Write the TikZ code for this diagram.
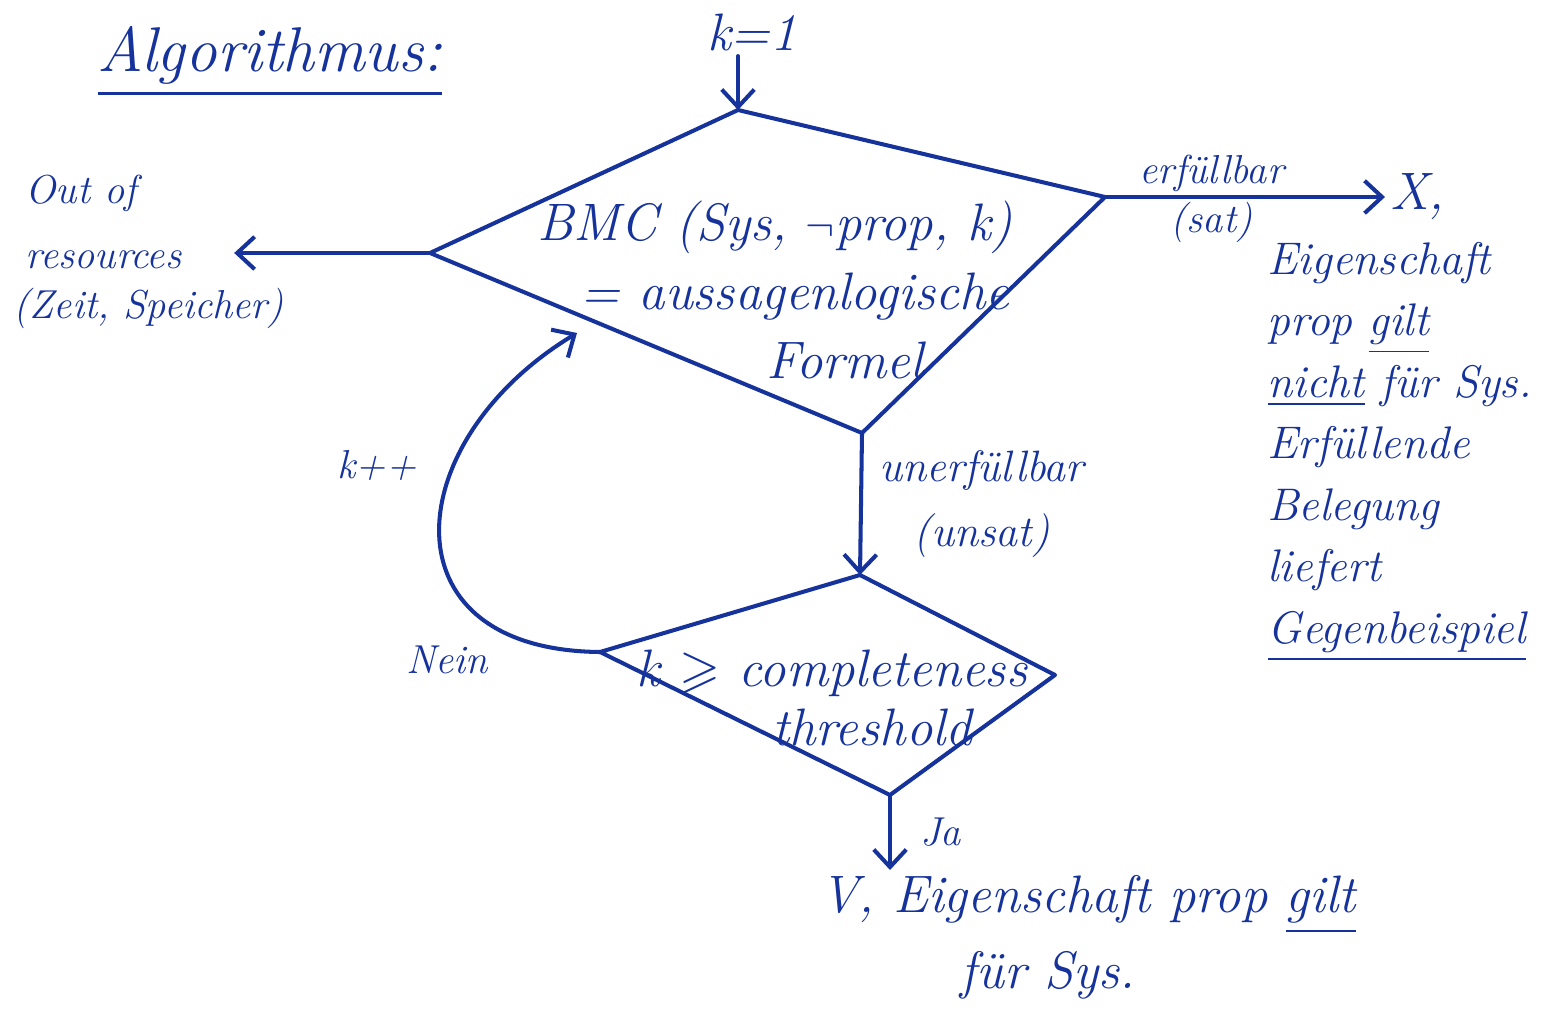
\documentclass[tikz,border=0pt]{standalone}
\usepackage{amsmath}
\usepackage{amssymb}
\usetikzlibrary{arrows.meta,positioning,calc}
\definecolor{ink}{RGB}{22,50,155}
\newcommand{\decisionbox}[5]{%
    \coordinate (#1-t) at #2;%
    \coordinate (#1-r) at #3;%
    \coordinate (#1-b) at #4;%
    \coordinate (#1-l) at #5;%
    \draw[box] (#1-t) -- (#1-r) -- (#1-b) -- (#1-l) -- cycle;%
}

\begin{document}
\begin{tikzpicture}[
        x=0.02cm,
        y=-0.02cm,
        line width=2.3pt,
        box/.style={draw=ink, line join=round},
        flow/.style={-{Straight Barb[length=3.5mm, width=6.5mm]}, draw=ink, line cap=round},
        hand/.style={text=ink, inner sep=2pt, align=left},
        big/.style={hand, font=\itshape\fontsize{30}{39}\selectfont},
        mid/.style={hand, font=\itshape\fontsize{26}{35}\selectfont},
        small/.style={hand, font=\itshape\fontsize{23}{37}\selectfont}
    ]
        \useasboundingbox (0,0) rectangle (1550,1023);

        % === TITEL ===
        \node[hand, font=\itshape\fontsize{36}{40}\selectfont] (title) at (270,62) {\underline{Algorithmus:}};
        \node[big] (start) at (752,32) {k=1};

        % === ENTSCHEIDUNGEN ===
        % \decisionbox{name}{oben}{rechts}{unten}{links}
        \decisionbox{bmc}{(738,110)}{(1105,197)}{(862,433)}{(430,253)}
        \node[big, align=center] (bmc) at (795,290)
            {BMC (Sys, $\neg$prop, k)\hspace*{0.8cm}\\= aussagenlogische\\\hspace*{2cm}Formel};
        \decisionbox{thr}{(860,575)}{(1055,675)}{(890,795)}{(600,652)}
        \node[big, align=center, font=\itshape\fontsize{30}{34}\selectfont] (thr) at (852,698)
            {k $\geqslant$ completeness\hspace*{0.8cm}\\\hspace*{0.8cm}threshold};
        \coordinate (bmc-in) at (577,333);

        % === ERGEBNISSE ===
        \node[big, anchor=west] (cex) at (1385,197) {X,};
        \node[mid, anchor=west] (cextxt) at (1262,452)
            {Eigenschaft\\prop \underline{gilt}\\\underline{nicht} für Sys.\\Erfüllende\\Belegung\\liefert\\\underline{Gegenbeispiel}};
        \node[small, anchor=west] (oor) at (20,222) {Out of\\resources};
        \node[small, anchor=west] (why) at (8,308) {(Zeit, Speicher)};
        \node[big, anchor=north west, font=\itshape\fontsize{30}{43}\selectfont] (holds) at (815,870)
            {V, Eigenschaft prop \underline{gilt}\\\hspace*{2.8cm}für Sys.};
        \node[small] (inc) at (377,466) {k++};
        \node[small] (no) at (447,660) {Nein};

        % === PFEILE ===
        \draw[flow] (start.south -| bmc-t) -- (bmc-t);
        \draw[flow] (bmc-r) -- node[small, above, pos=0.38] {erfüllbar}
            node[small, below, pos=0.38] {(sat)} (cex.west);
        \draw[flow, shorten >=0.95cm] (bmc-l) -- (bmc-l -| oor.east);
        \draw[flow] (bmc-b) -- node[right=6pt, align=center, text=ink, font=\itshape\fontsize{25}{37}\selectfont]
            {unerfüllbar\\(unsat)} (thr-t);
        \draw[flow] (thr-b) -- node[small, right=14pt] {Ja} (thr-b |- holds.north);
        \draw[flow] (thr-l) .. controls (380,650) and (400,440) .. (bmc-in);
    \end{tikzpicture}
\end{document}
